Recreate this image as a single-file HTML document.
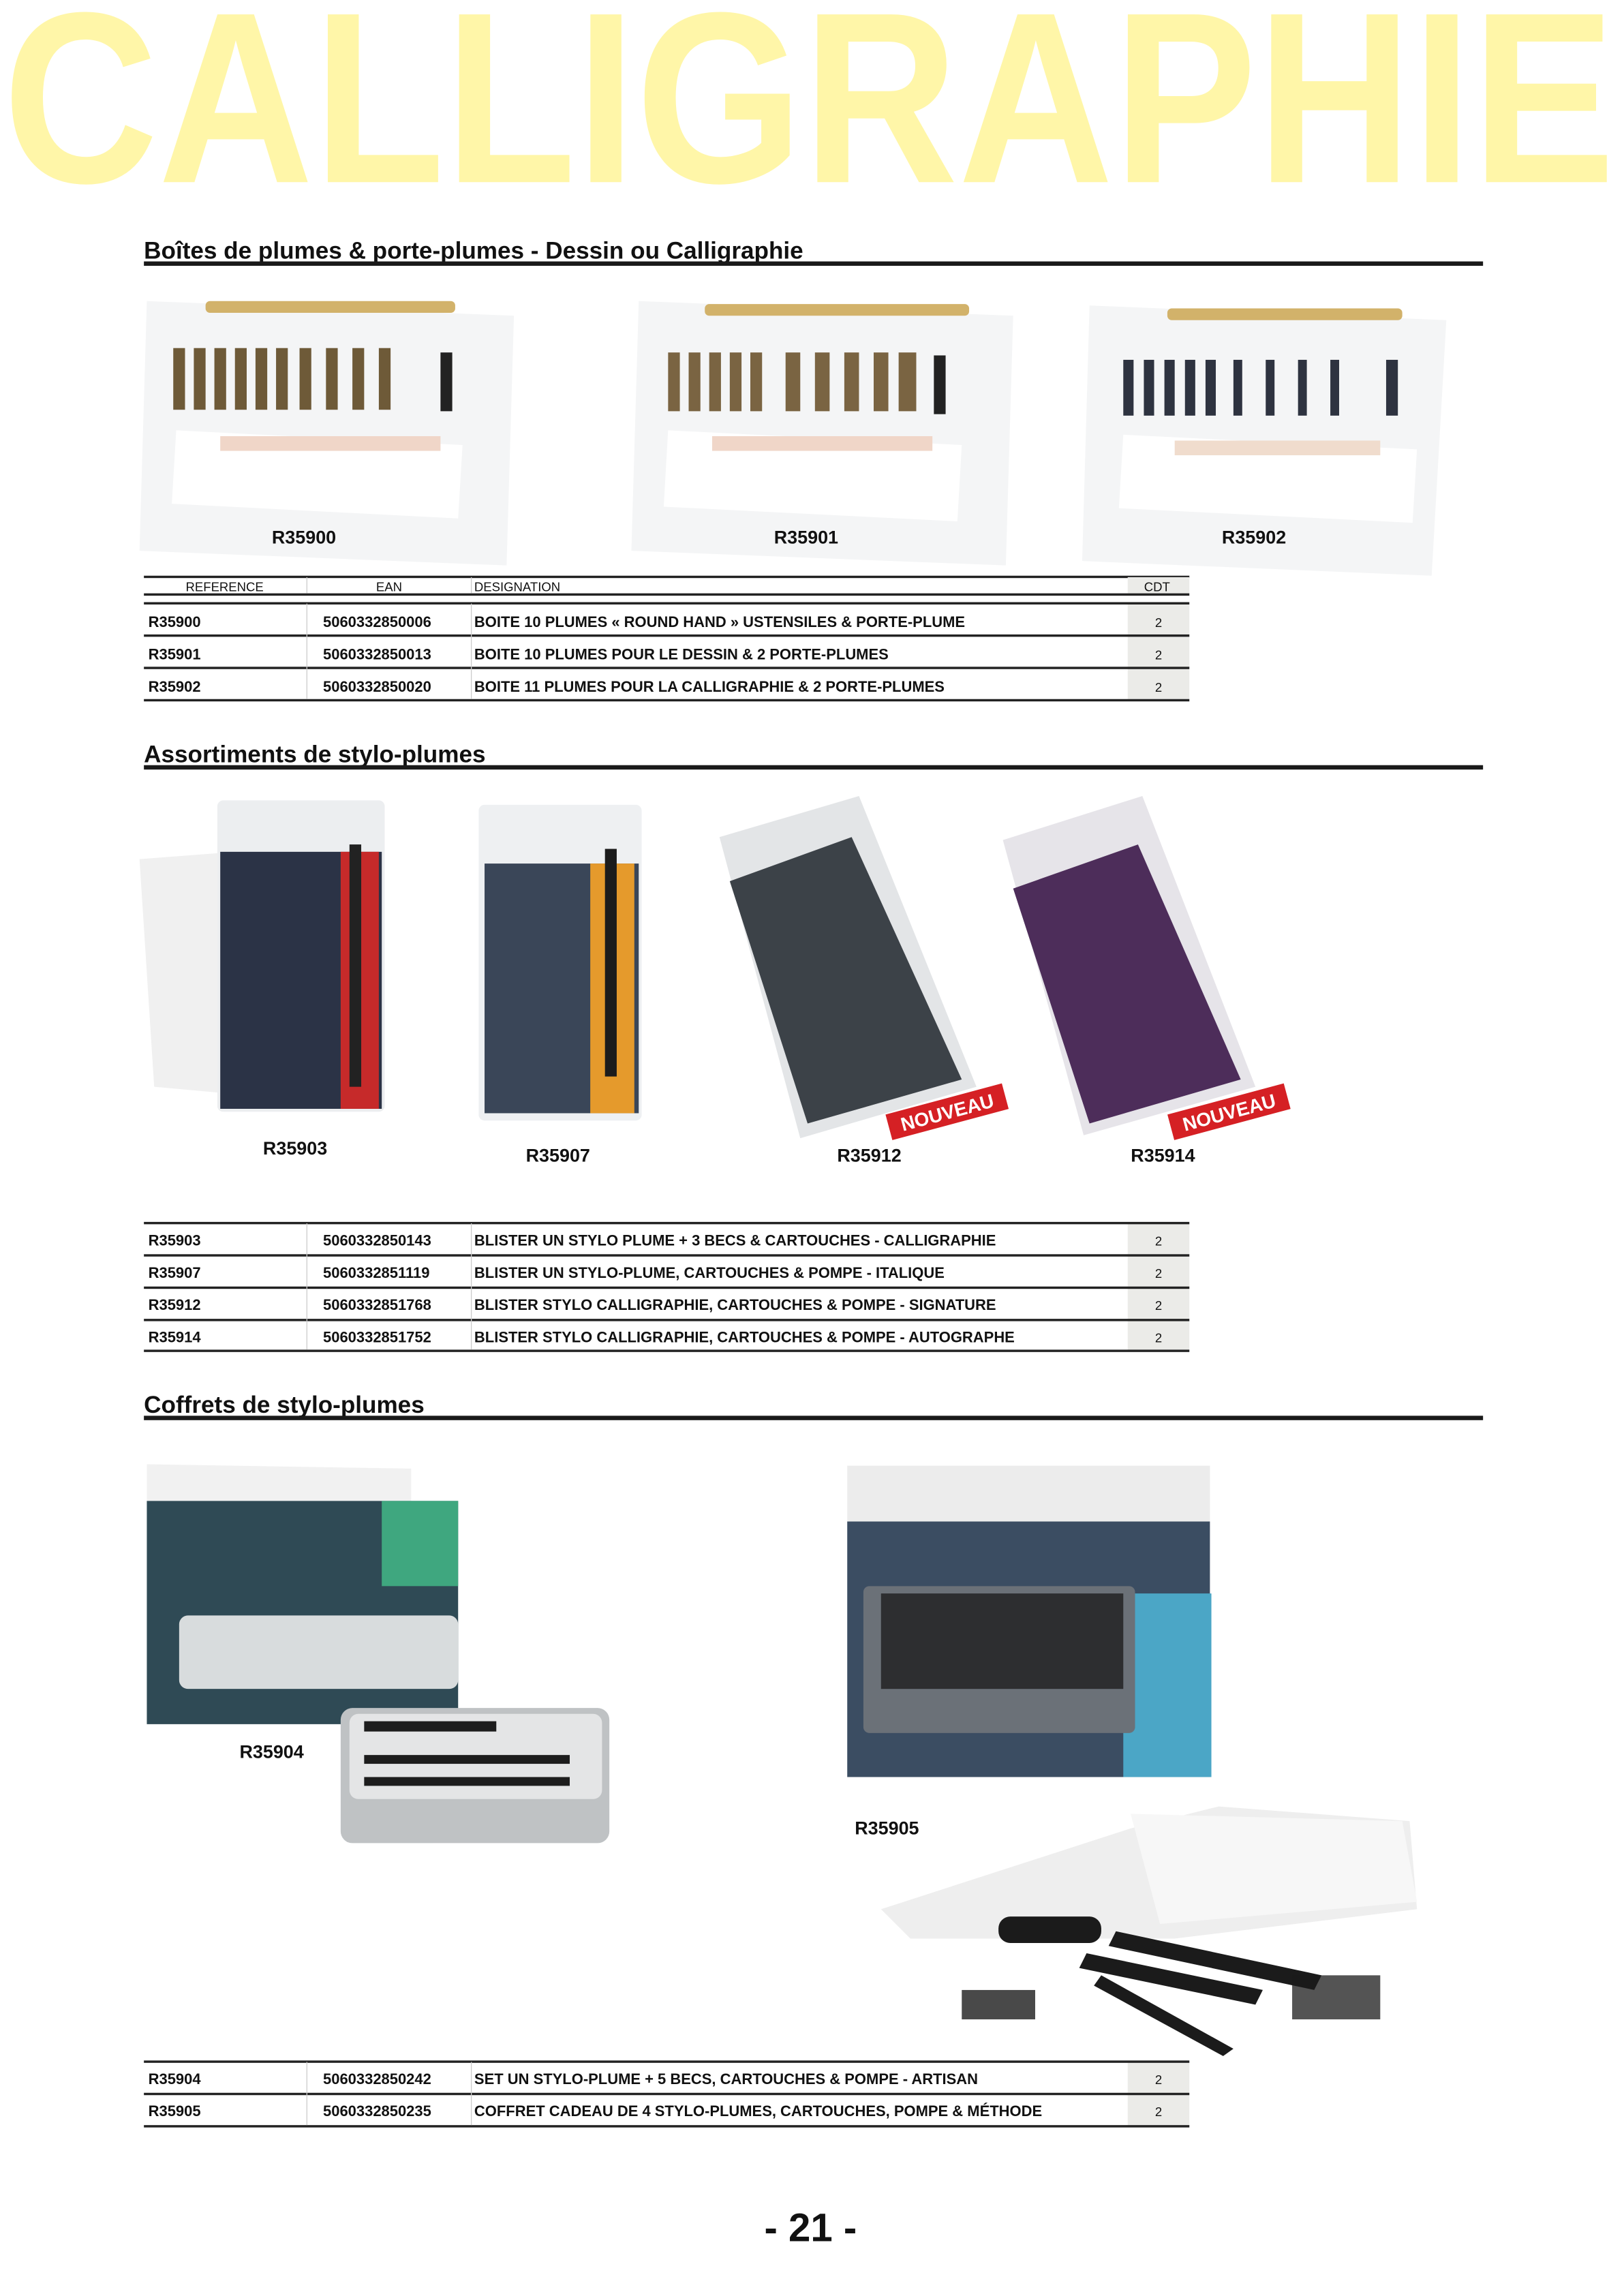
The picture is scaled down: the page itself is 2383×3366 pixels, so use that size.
<!DOCTYPE html>
<html><head><meta charset="utf-8"><style>
html,body{margin:0;padding:0;background:#fff}
svg{display:block}
text{font-family:"Liberation Sans",sans-serif}
.h{font-size:16.3px;font-weight:bold;fill:#111}
.t{font-size:10.2px;font-weight:bold;fill:#111}
.th{font-size:8.6px;fill:#111}
.l{font-size:12.5px;font-weight:bold;fill:#111}
</style></head><body>
<svg width="2383" height="3366" viewBox="0 0 1106 1562" preserveAspectRatio="none" xmlns="http://www.w3.org/2000/svg">
<rect width="1106" height="1562" fill="#fff"/>
<text x="2" y="124" font-size="166" font-weight="bold" fill="#fff6a8" textLength="1098" lengthAdjust="spacingAndGlyphs">CALLIGRAPHIE</text>

<!-- Section 1 -->
<text class="h" x="98" y="176">Boîtes de plumes &amp; porte-plumes - Dessin ou Calligraphie</text>
<rect x="98" y="178" width="912" height="3" fill="#1a1a1a"/>

<g>
<polygon points="100,205 350,215 345,385 95,375" fill="#f4f5f6"/>
<rect x="140" y="205" width="170" height="8" rx="3" fill="#d2b26a"/>
<g fill="#6e5a38"><rect x="118" y="237" width="8" height="42"/><rect x="132" y="237" width="8" height="42"/><rect x="146" y="237" width="8" height="42"/><rect x="160" y="237" width="8" height="42"/><rect x="174" y="237" width="8" height="42"/><rect x="188" y="237" width="8" height="42"/><rect x="204" y="237" width="8" height="42"/><rect x="222" y="237" width="8" height="42"/><rect x="240" y="237" width="8" height="42"/><rect x="258" y="237" width="8" height="42"/></g>
<rect x="300" y="240" width="8" height="40" fill="#222"/>
<polygon points="120,293 315,303 312,353 117,343" fill="#fff"/>
<rect x="150" y="297" width="150" height="10" fill="#f0d6c8"/>
</g>
<g>
<polygon points="435,205 690,215 685,385 430,375" fill="#f4f5f6"/>
<rect x="480" y="207" width="180" height="8" rx="3" fill="#d2b26a"/>
<g fill="#7a6442"><rect x="455" y="240" width="8" height="40"/><rect x="469" y="240" width="8" height="40"/><rect x="483" y="240" width="8" height="40"/><rect x="497" y="240" width="8" height="40"/><rect x="511" y="240" width="8" height="40"/><rect x="535" y="240" width="10" height="40"/><rect x="555" y="240" width="10" height="40"/><rect x="575" y="240" width="10" height="40"/><rect x="595" y="240" width="10" height="40"/><rect x="612" y="240" width="12" height="40"/></g>
<rect x="636" y="242" width="8" height="40" fill="#222"/>
<polygon points="455,293 655,303 652,355 452,345" fill="#fff"/>
<rect x="485" y="297" width="150" height="10" fill="#f0d6c8"/>
</g>
<g>
<polygon points="742,208 985,218 975,392 737,382" fill="#f4f5f6"/>
<rect x="795" y="210" width="160" height="8" rx="3" fill="#d2b26a"/>
<g fill="#2e3340"><rect x="765" y="245" width="7" height="38"/><rect x="779" y="245" width="7" height="38"/><rect x="793" y="245" width="7" height="38"/><rect x="807" y="245" width="7" height="38"/><rect x="821" y="245" width="7" height="38"/><rect x="840" y="245" width="6" height="38"/><rect x="862" y="245" width="6" height="38"/><rect x="884" y="245" width="6" height="38"/><rect x="906" y="245" width="6" height="38"/><rect x="944" y="245" width="8" height="38"/></g>
<polygon points="765,296 965,306 962,356 762,346" fill="#fff"/>
<rect x="800" y="300" width="140" height="10" fill="#f0dccd"/>
</g>
<text class="l" x="207" y="370" text-anchor="middle">R35900</text>
<text class="l" x="549" y="370" text-anchor="middle">R35901</text>
<text class="l" x="854" y="370" text-anchor="middle">R35902</text>

<!-- Table 1 -->
<rect x="98" y="392" width="712" height="1.6" fill="#222"/>
<rect x="768" y="393" width="42" height="11" fill="#ebebe8"/>
<text class="th" x="153" y="402.5" text-anchor="middle">REFERENCE</text>
<text class="th" x="265" y="402.5" text-anchor="middle">EAN</text>
<text class="th" x="323" y="402.5">DESIGNATION</text>
<text class="th" x="788" y="402.5" text-anchor="middle">CDT</text>
<rect x="98" y="404" width="712" height="1.6" fill="#222"/>
<line x1="209" y1="393" x2="209" y2="404" stroke="#ccc" stroke-width=".6"/>
<line x1="321" y1="393" x2="321" y2="404" stroke="#ccc" stroke-width=".6"/>
<g>
<rect x="768" y="411" width="42" height="66" fill="#ebebe8"/>
<rect x="98" y="410" width="712" height="1.6" fill="#222"/>
<rect x="98" y="432" width="712" height="1.6" fill="#222"/>
<rect x="98" y="454" width="712" height="1.6" fill="#222"/>
<rect x="98" y="476" width="712" height="1.6" fill="#222"/>
<line x1="209" y1="411" x2="209" y2="476" stroke="#ccc" stroke-width=".6"/>
<line x1="321" y1="411" x2="321" y2="476" stroke="#ccc" stroke-width=".6"/>
<text class="t" x="101" y="427">R35900</text><text class="t" x="220" y="427">5060332850006</text><text class="t" x="323" y="427">BOITE 10 PLUMES « ROUND HAND » USTENSILES &amp; PORTE-PLUME</text><text class="th" x="789" y="427" text-anchor="middle">2</text>
<text class="t" x="101" y="449">R35901</text><text class="t" x="220" y="449">5060332850013</text><text class="t" x="323" y="449">BOITE 10 PLUMES POUR LE DESSIN &amp; 2 PORTE-PLUMES</text><text class="th" x="789" y="449" text-anchor="middle">2</text>
<text class="t" x="101" y="471">R35902</text><text class="t" x="220" y="471">5060332850020</text><text class="t" x="323" y="471">BOITE 11 PLUMES POUR LA CALLIGRAPHIE &amp; 2 PORTE-PLUMES</text><text class="th" x="789" y="471" text-anchor="middle">2</text>
</g>

<!-- Section 2 -->
<text class="h" x="98" y="519">Assortiments de stylo-plumes</text>
<rect x="98" y="521" width="912" height="3" fill="#1a1a1a"/>

<polygon points="95,585 160,580 160,745 105,740" fill="#f0f0f0"/>
<rect x="148" y="545" width="114" height="212" rx="4" fill="#eceef0"/>
<rect x="150" y="580" width="110" height="175" fill="#2b3346"/>
<rect x="232" y="580" width="26" height="175" fill="#c62a2a"/>
<rect x="238" y="575" width="8" height="165" fill="#222"/>
<rect x="326" y="548" width="111" height="215" rx="4" fill="#eef0f2"/>
<rect x="330" y="588" width="105" height="170" fill="#3a4658"/>
<rect x="402" y="588" width="30" height="170" fill="#e59a2c"/>
<rect x="412" y="578" width="8" height="155" fill="#1c1c1c"/>
<polygon points="490,570 585,542 665,740 545,775" fill="#e3e5e7"/>
<polygon points="497,600 580,570 655,735 550,765" fill="#3c4248"/>
<polygon points="683,572 778,542 855,740 738,773" fill="#e6e4e9"/>
<polygon points="690,605 775,575 845,735 742,765" fill="#4d2d5a"/>
<g transform="translate(645,757) rotate(-15)"><rect x="-41" y="-9" width="82" height="18" fill="#d52024"/><text x="0" y="5" font-size="13" font-weight="bold" fill="#fff" text-anchor="middle">NOUVEAU</text></g>
<g transform="translate(837,757) rotate(-15)"><rect x="-41" y="-9" width="82" height="18" fill="#d52024"/><text x="0" y="5" font-size="13" font-weight="bold" fill="#fff" text-anchor="middle">NOUVEAU</text></g>
<text class="l" x="201" y="786" text-anchor="middle">R35903</text>
<text class="l" x="380" y="791" text-anchor="middle">R35907</text>
<text class="l" x="592" y="791" text-anchor="middle">R35912</text>
<text class="l" x="792" y="791" text-anchor="middle">R35914</text>

<!-- Table 2 -->
<g>
<rect x="768" y="833" width="42" height="87" fill="#ebebe8"/>
<rect x="98" y="832" width="712" height="1.6" fill="#222"/>
<rect x="98" y="854" width="712" height="1.6" fill="#222"/>
<rect x="98" y="876" width="712" height="1.6" fill="#222"/>
<rect x="98" y="898" width="712" height="1.6" fill="#222"/>
<rect x="98" y="919" width="712" height="1.6" fill="#222"/>
<line x1="209" y1="833" x2="209" y2="919" stroke="#ccc" stroke-width=".6"/>
<line x1="321" y1="833" x2="321" y2="919" stroke="#ccc" stroke-width=".6"/>
<text class="t" x="101" y="848">R35903</text><text class="t" x="220" y="848">5060332850143</text><text class="t" x="323" y="848">BLISTER UN STYLO PLUME + 3 BECS &amp; CARTOUCHES - CALLIGRAPHIE</text><text class="th" x="789" y="848" text-anchor="middle">2</text>
<text class="t" x="101" y="870">R35907</text><text class="t" x="220" y="870">5060332851119</text><text class="t" x="323" y="870">BLISTER UN STYLO-PLUME, CARTOUCHES &amp; POMPE - ITALIQUE</text><text class="th" x="789" y="870" text-anchor="middle">2</text>
<text class="t" x="101" y="892">R35912</text><text class="t" x="220" y="892">5060332851768</text><text class="t" x="323" y="892">BLISTER STYLO CALLIGRAPHIE, CARTOUCHES &amp; POMPE - SIGNATURE</text><text class="th" x="789" y="892" text-anchor="middle">2</text>
<text class="t" x="101" y="914">R35914</text><text class="t" x="220" y="914">5060332851752</text><text class="t" x="323" y="914">BLISTER STYLO CALLIGRAPHIE, CARTOUCHES &amp; POMPE - AUTOGRAPHE</text><text class="th" x="789" y="914" text-anchor="middle">2</text>
</g>

<!-- Section 3 -->
<text class="h" x="98" y="962">Coffrets de stylo-plumes</text>
<rect x="98" y="964" width="912" height="3" fill="#1a1a1a"/>

<polygon points="100,997 280,1000 280,1025 100,1022" fill="#f1f1f1"/>
<rect x="100" y="1022" width="212" height="152" fill="#2f4a55"/>
<rect x="260" y="1022" width="52" height="58" fill="#3fa77f"/>
<rect x="122" y="1100" width="190" height="50" rx="6" fill="#d8dcdd"/>
<rect x="232" y="1163" width="183" height="92" rx="8" fill="#bfc2c4"/>
<rect x="238" y="1167" width="172" height="58" rx="6" fill="#e4e5e6"/>
<rect x="248" y="1172" width="90" height="7" fill="#1d1d1d"/>
<rect x="248" y="1195" width="140" height="6" fill="#1d1d1d"/>
<rect x="248" y="1210" width="140" height="6" fill="#1d1d1d"/>
<text class="l" x="185" y="1197" text-anchor="middle">R35904</text>

<rect x="577" y="998" width="247" height="38" fill="#ececec"/>
<rect x="577" y="1036" width="247" height="174" fill="#3b4d62"/>
<rect x="765" y="1085" width="60" height="125" fill="#4ba6c6"/>
<rect x="588" y="1080" width="185" height="100" rx="4" fill="#6b7178"/>
<rect x="600" y="1085" width="165" height="65" fill="#1e1e1e" opacity=".8"/>
<text class="l" x="604" y="1249" text-anchor="middle">R35905</text>
<polygon points="600,1300 770,1245 830,1230 960,1240 965,1300 800,1320 620,1320" fill="#eeeeee"/>
<polygon points="770,1235 955,1240 965,1295 790,1310" fill="#f7f7f7"/>
<g fill="#1b1b1b">
<rect x="680" y="1305" width="70" height="18" rx="8"/>
<polygon points="740,1330 860,1355 855,1365 735,1340"/>
<polygon points="760,1315 900,1345 895,1355 755,1325"/>
<polygon points="750,1345 840,1395 833,1400 745,1352"/>
<rect x="655" y="1355" width="50" height="20" opacity=".8"/>
<rect x="880" y="1345" width="60" height="30" opacity=".75"/>
</g>

<!-- Table 3 -->
<g>
<rect x="768" y="1404" width="42" height="44" fill="#ebebe8"/>
<rect x="98" y="1403" width="712" height="1.6" fill="#222"/>
<rect x="98" y="1425" width="712" height="1.6" fill="#222"/>
<rect x="98" y="1447" width="712" height="1.6" fill="#222"/>
<line x1="209" y1="1404" x2="209" y2="1447" stroke="#ccc" stroke-width=".6"/>
<line x1="321" y1="1404" x2="321" y2="1447" stroke="#ccc" stroke-width=".6"/>
<text class="t" x="101" y="1419">R35904</text><text class="t" x="220" y="1419">5060332850242</text><text class="t" x="323" y="1419">SET UN STYLO-PLUME + 5 BECS, CARTOUCHES &amp; POMPE - ARTISAN</text><text class="th" x="789" y="1419" text-anchor="middle">2</text>
<text class="t" x="101" y="1441">R35905</text><text class="t" x="220" y="1441">5060332850235</text><text class="t" x="323" y="1441">COFFRET CADEAU DE 4 STYLO-PLUMES, CARTOUCHES, POMPE &amp; MÉTHODE</text><text class="th" x="789" y="1441" text-anchor="middle">2</text>
</g>

<text x="552" y="1526" font-size="27" font-weight="bold" fill="#111" text-anchor="middle">- 21 -</text>
</svg>
</body></html>
